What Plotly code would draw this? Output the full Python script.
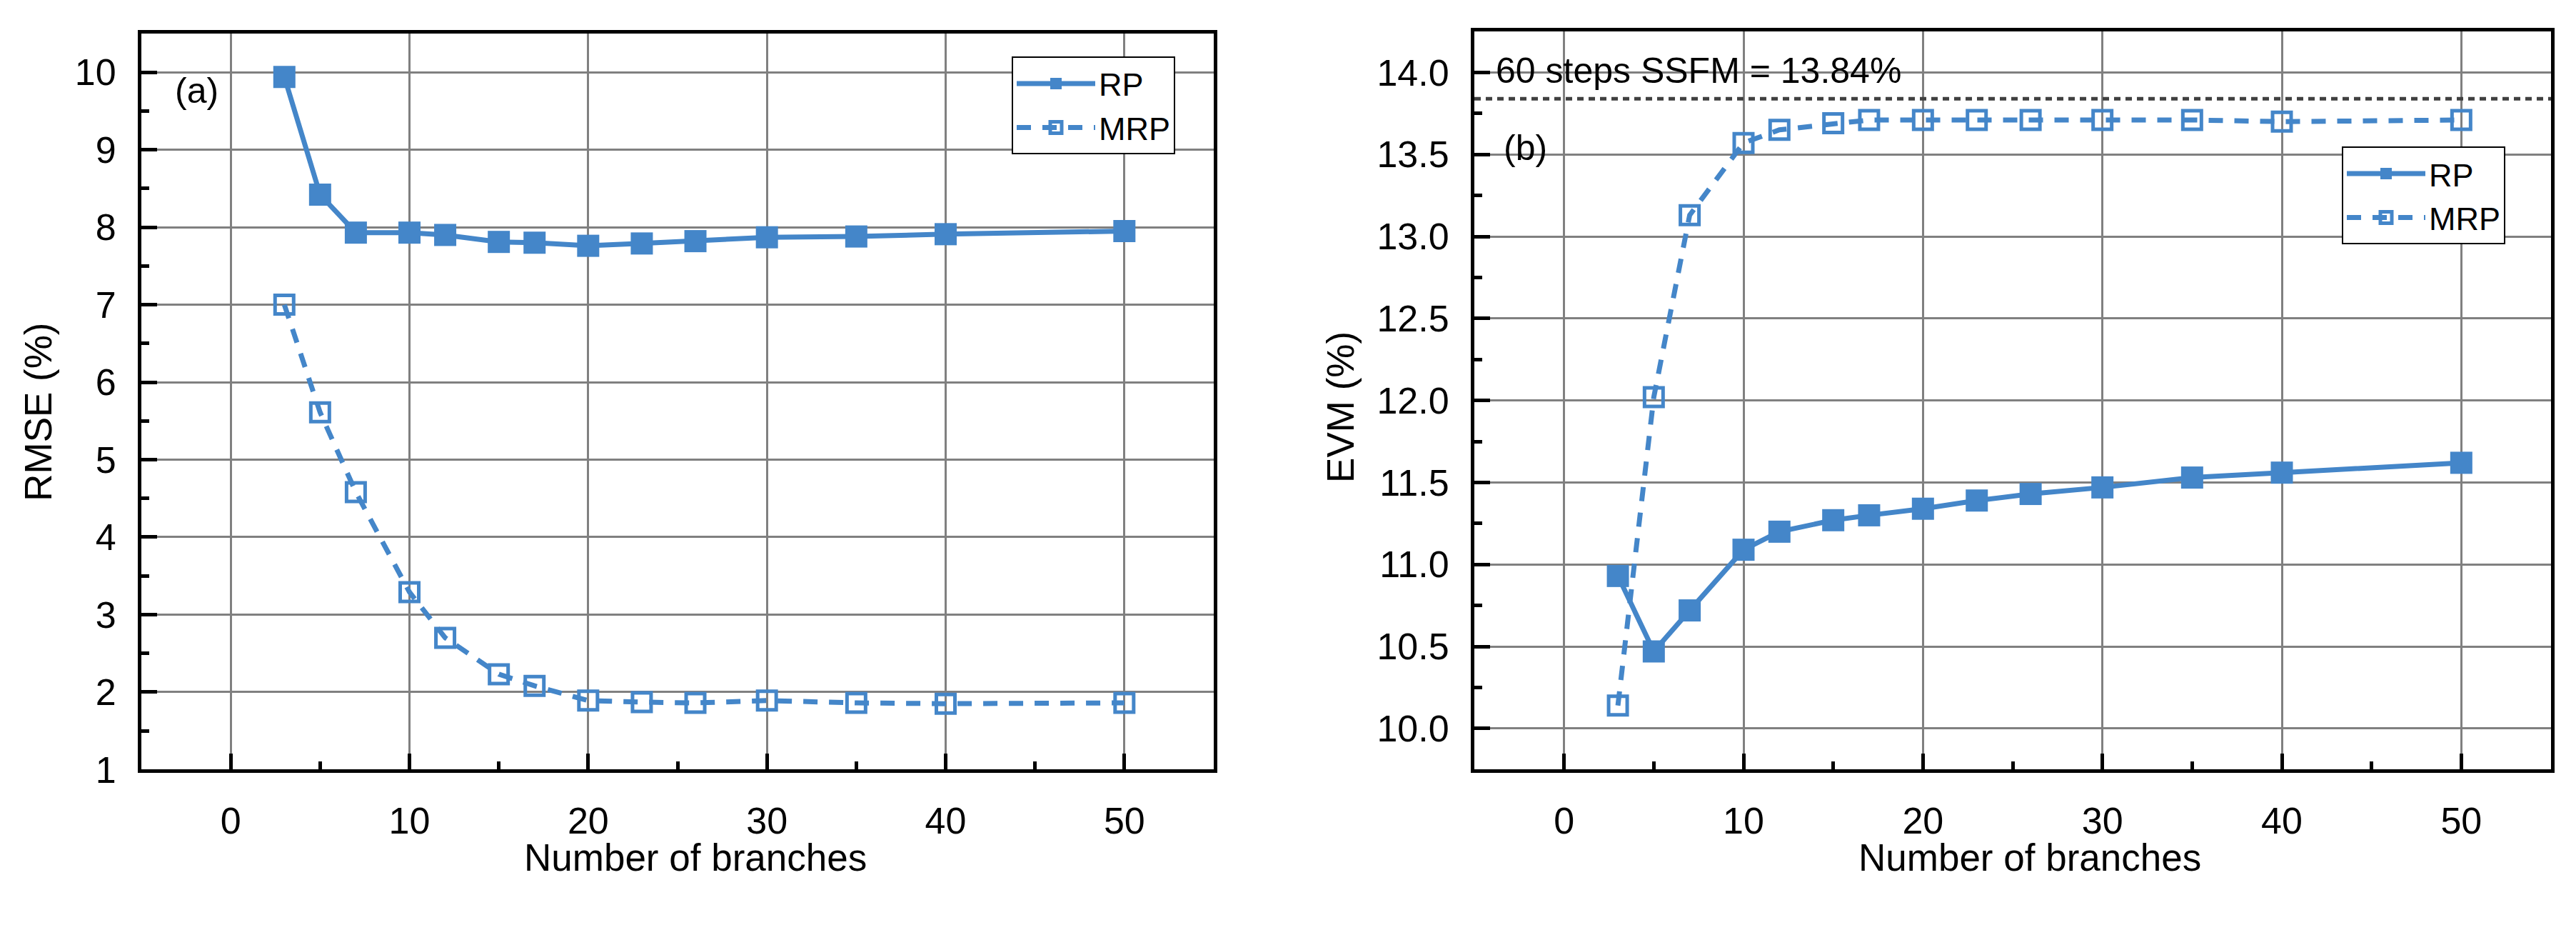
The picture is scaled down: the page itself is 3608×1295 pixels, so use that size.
import plotly.graph_objects as go

branches = [3, 5, 7, 10, 12, 15, 17, 20, 23, 26, 30, 35, 40, 50]
rmse_rp = [9.94, 8.42, 7.93, 7.93, 7.90, 7.81, 7.80, 7.76, 7.79, 7.82, 7.87, 7.88, 7.91, 7.95]
rmse_mrp = [7.00, 5.61, 4.58, 3.29, 2.70, 2.23, 2.08, 1.89, 1.87, 1.86, 1.89, 1.86, 1.85, 1.86]
evm_rp = [10.93, 10.47, 10.72, 11.09, 11.20, 11.27, 11.30, 11.34, 11.39, 11.43, 11.47, 11.53, 11.56, 11.62]
evm_mrp = [10.14, 12.02, 13.13, 13.57, 13.65, 13.69, 13.71, 13.71, 13.71, 13.71, 13.71, 13.71, 13.70, 13.71]
ssfm_evm = 13.84
series_names = ["RP", "MRP"]

W, H = 3608, 1295
BLUE = "#4486C9"
FONT = "Liberation Sans, Arial, sans-serif"
TICKFONT = dict(family=FONT, size=52, color="black")

fig = go.Figure()

def add_pair(x, y_rp, y_mrp, xa, ya, legend):
    fig.add_trace(go.Scatter(
        x=x, y=y_rp, name=series_names[0], mode="lines+markers",
        xaxis=xa, yaxis=ya, legend=legend,
        line=dict(color=BLUE, width=7),
        marker=dict(symbol="square", size=31, color=BLUE, line=dict(width=0)),
    ))
    fig.add_trace(go.Scatter(
        x=x, y=y_mrp, name=series_names[1], mode="lines+markers",
        xaxis=xa, yaxis=ya, legend=legend,
        line=dict(color=BLUE, width=7, dash="20px,16px"),
        marker=dict(symbol="square-open", size=26, color=BLUE, line=dict(width=5, color=BLUE)),
    ))

add_pair(branches, rmse_rp, rmse_mrp, "x", "y", "legend")
add_pair(branches, evm_rp, evm_mrp, "x2", "y2", "legend2")

def xaxis_cfg(x0, x1):
    return dict(
        domain=[x0 / W, x1 / W], range=[-5, 55], tickmode="linear", tick0=0, dtick=10,
        showline=True, linewidth=5, linecolor="black", mirror=True,
        ticks="inside", ticklen=22, tickwidth=5, tickcolor="black",
        minor=dict(ticks="inside", ticklen=11, tickwidth=5, tickcolor="black", dtick=5, tick0=0, showgrid=False),
        showgrid=True, gridcolor="#808080", gridwidth=2.5, zeroline=False,
        tickfont=TICKFONT, ticklabelstandoff=22,
    )

def yaxis_cfg(y0, y1, rng, dtick, minor_dtick, fmt):
    return dict(
        domain=[1 - y1 / H, 1 - y0 / H], range=rng, tickmode="linear", tick0=0, dtick=dtick,
        showline=True, linewidth=5, linecolor="black", mirror=True,
        ticks="inside", ticklen=22, tickwidth=5, tickcolor="black",
        minor=dict(ticks="inside", ticklen=11, tickwidth=5, tickcolor="black", dtick=minor_dtick, tick0=0, showgrid=False),
        showgrid=True, gridcolor="#808080", gridwidth=2.5, zeroline=False,
        tickfont=TICKFONT, tickformat=fmt, ticklabelstandoff=20,
    )

legend_common = dict(
    bgcolor="white", bordercolor="black", borderwidth=2,
    font=dict(family=FONT, size=45, color="black"),
    itemwidth=110, xanchor="left", yanchor="top", tracegroupgap=0,
)

fig.update_layout(
    width=W, height=H, margin=dict(l=0, r=0, t=0, b=0),
    paper_bgcolor="white", plot_bgcolor="white",
    xaxis=xaxis_cfg(198, 1700),
    yaxis=yaxis_cfg(48, 1102, [1, 10.5], 1, 0.5, "d"),
    xaxis2=dict(xaxis_cfg(2065, 3573), anchor="y2"),
    yaxis2=dict(yaxis_cfg(45, 1102, [9.75, 14.25], 0.5, 0.25, ".1f"), anchor="x2"),
    legend=dict(legend_common, x=1417 / W, y=1 - 81 / H),
    legend2=dict(legend_common, x=3280 / W, y=1 - 210 / H),
    showlegend=True,
)

fig.add_shape(type="line", xref="x2 domain", yref="y2", x0=0, x1=1, y0=ssfm_evm, y1=ssfm_evm,
              line=dict(color="#404040", width=5, dash="9px,7px"))

ann_font = dict(family=FONT, size=50, color="black")
title_font = dict(family=FONT, size=53, color="black")
annotations = [
    dict(text="(a)", xref="x", yref="y", x=-3.22, y=9.76, xanchor="left", yanchor="middle", showarrow=False, font=ann_font),
    dict(text="(b)", xref="x2", yref="y2", x=-3.46, y=13.54, xanchor="left", yanchor="middle", showarrow=False, font=ann_font),
    dict(text=f"60 steps SSFM = {ssfm_evm:.2f}%", xref="x2", yref="y2", x=-3.9, y=14.01, xanchor="left", yanchor="middle", showarrow=False, font=ann_font),
    dict(text="Number of branches", xref="paper", yref="paper", x=974 / W, y=1 - 1228 / H, xanchor="center", yanchor="middle", showarrow=False, font=title_font),
    dict(text="Number of branches", xref="paper", yref="paper", x=2843 / W, y=1 - 1228 / H, xanchor="center", yanchor="middle", showarrow=False, font=title_font),
    dict(text="RMSE (%)", xref="paper", yref="paper", x=54 / W, y=1 - 590 / H, xanchor="center", yanchor="middle", textangle=-90, showarrow=False, font=title_font),
    dict(text="EVM (%)", xref="paper", yref="paper", x=1878 / W, y=1 - 583 / H, xanchor="center", yanchor="middle", textangle=-90, showarrow=False, font=title_font),
]
fig.update_layout(annotations=annotations)

fig.write_html("out.html")
